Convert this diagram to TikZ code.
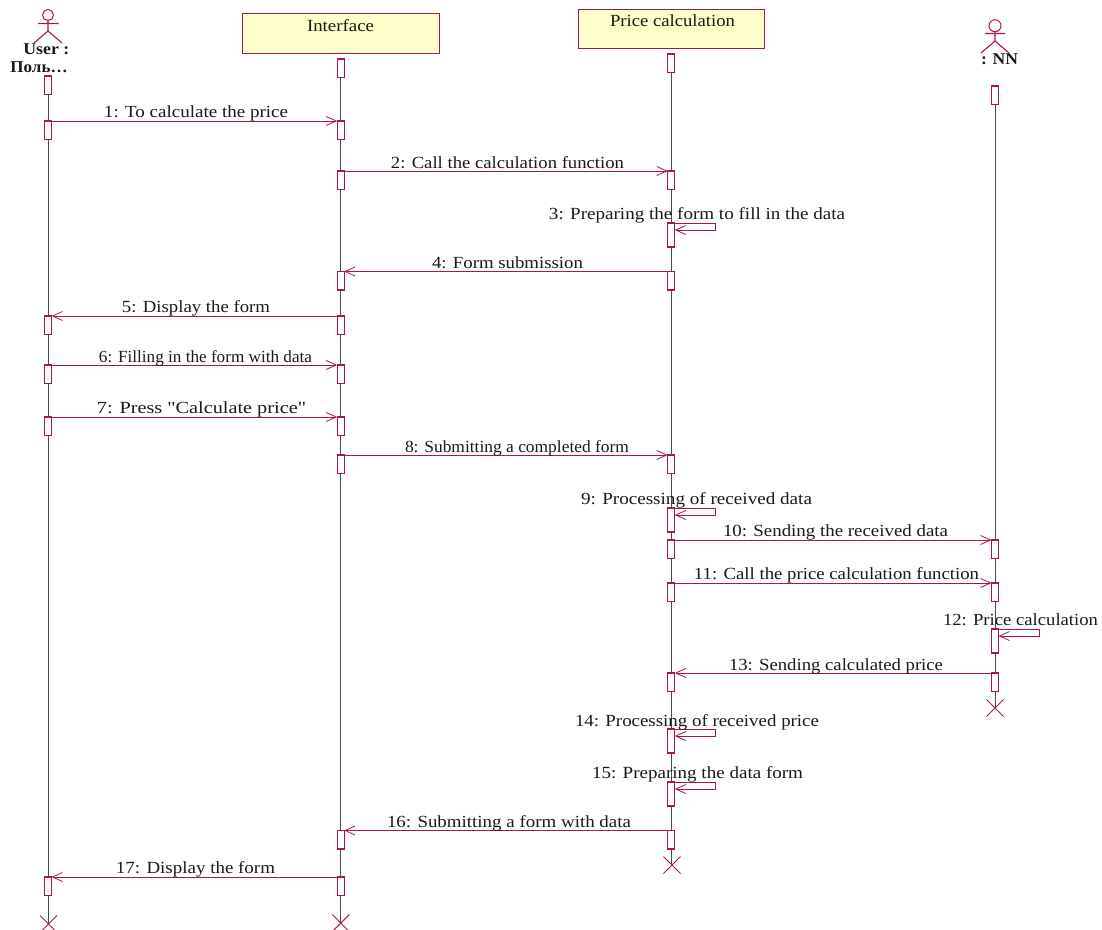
\documentclass[tikz,border=0pt]{standalone}
\usepackage{fontspec}
\usepackage{graphicx}
\newfontfamily\lblfont{Liberation Serif}
\usetikzlibrary{arrows.meta,shapes.misc}
\definecolor{umlred}{RGB}{173,20,75}
\definecolor{umlfill}{RGB}{255,255,203}
\newcommand{\fitw}[2]{\resizebox{#1pt}{\height}{#2}}
\tikzset{
  act/.style={draw=umlred,fill=white,line width=1.05pt,minimum width=7pt,minimum height=18.5pt,inner sep=0pt,outer sep=0pt,anchor=north},
  obj/.style={draw=umlred,fill=umlfill,line width=1pt,inner sep=0pt,outer sep=0pt},
  life/.style={draw=black!70,line width=1pt},
  msg/.style={draw=umlred,line width=0.9pt,-{Straight Barb[length=10pt,width=9pt,line width=0.8pt]}},
  lbl/.style={font=\lblfont\fontsize{17}{19}\selectfont,text=black!90,inner sep=0pt,anchor=base,yshift=-0.7pt},
  actorname/.style={font=\lblfont\fontsize{16.5}{18}\selectfont\bfseries,text=black!90,inner sep=0pt,anchor=base},
  xend/.style={cross out,draw=umlred,line width=1pt,minimum size=17pt,inner sep=0pt,outer sep=0pt},
  limb/.style={draw=umlred,line width=1.1pt},
}
\begin{document}
\begin{tikzpicture}[x=1pt,y=-1pt]
\useasboundingbox (0,0) rectangle (1102,929);
% end marks
\node[xend] (xu) at (48.5,924) {};
\node[xend] (xi) at (340.8,923) {};
\node[xend] (xp) at (672,865) {};
\node[xend] (xn) at (995,708) {};
% head activations
\coordinate (u0c) at (48,76);
\coordinate (i0c) at (340.6,59);
\coordinate (p0c) at (671.3,54);
\coordinate (n0c) at (995,86);
% lifelines
\draw[life] (u0c) -- (u0c |- xu.center);
\draw[life] (i0c) -- (i0c |- xi.center);
\draw[life] (p0c) -- (p0c |- xp.center);
\draw[life] (n0c) -- (n0c |- xn.center);
\node[act] (u0) at (u0c) {};
\node[act] (i0) at (i0c) {};
\node[act] (p0) at (p0c) {};
\node[act] (n0) at (n0c) {};
% object boxes
\node[obj,minimum width=197pt,minimum height=40pt] (ifc) at (340.5,33) {};
\node[lbl] (ifct) at (340.5,30.3) {\fitw{67}{Interface}};
\node[obj,minimum width=186pt,minimum height=39pt] (prc) at (671,28.5) {};
\node[lbl] (prct) at (672.5,26) {\fitw{125}{Price calculation}};
% actors
\node[draw=umlred,line width=1pt,circle,minimum size=11pt,inner sep=0pt,outer sep=0pt] (uh) at (48,15) {};
\coordinate (ul) at (34,43); \coordinate (ur) at (62,43); \coordinate (ub) at (48,31);
\coordinate (ua1) at (38,23.5); \coordinate (ua2) at (58.5,23.5);
\draw[limb] (uh.south) -- (ub) (ua1) -- (ua2) (ul) -- (ub) -- (ur);
\node[actorname] (ut1) at (46.3,54) {\fitw{46}{User :}};
\node[actorname] (ut2) at (39,72.5) {\fitw{57}{Поль…}};
\node[draw=umlred,line width=1pt,circle,minimum size=12pt,inner sep=0pt,outer sep=0pt] (nh) at (995,25.7) {};
\coordinate (nl) at (981,53); \coordinate (nr) at (1009,53); \coordinate (nb) at (995,41);
\coordinate (na1) at (985,33.5); \coordinate (na2) at (1005,33.5);
\draw[limb] (nh.south) -- (nb) (na1) -- (na2) (nl) -- (nb) -- (nr);
\node[actorname] (nt) at (999.5,64) {\fitw{37}{: NN}};
% activations
\node[act] (u1) at (48,121) {};      \node[act] (i1) at (340.6,121) {};
\node[act] (i2) at (340.6,171) {};   \node[act] (p2) at (671.3,171) {};
\node[act,minimum height=24pt] (p3) at (671.3,223) {};
\node[act] (p4) at (671.3,271.5) {};   \node[act] (i4) at (340.6,271.5) {};
\node[act] (i5) at (340.6,316) {};   \node[act] (u5) at (48,316) {};
\node[act] (u6) at (48,365) {};      \node[act] (i6) at (340.6,365) {};
\node[act] (u7) at (48,417) {};      \node[act] (i7) at (340.6,417) {};
\node[act] (i8) at (340.6,455) {};   \node[act] (p8) at (671.3,455) {};
\node[act,minimum height=24pt] (p9) at (671.3,508) {};
\node[act] (p10) at (671.3,540) {};    \node[act] (n10) at (995,540) {};
\node[act] (p11) at (671.3,583) {};    \node[act] (n11) at (995,583) {};
\node[act,minimum height=24pt] (n12) at (995,629) {};
\node[act] (n13) at (995,673) {};    \node[act] (p13) at (671.3,673) {};
\node[act,minimum height=24pt] (p14) at (671.3,729) {};
\node[act,minimum height=24pt] (p15) at (671.3,782) {};
\node[act] (p16) at (671.3,830.5) {};  \node[act] (i16) at (340.6,830.5) {};
\node[act] (i17) at (340.6,877) {};  \node[act] (u17) at (48,877) {};
% messages
\draw[msg] (u1.north east) -- (i1.north west);
\draw[msg] (i2.north east) -- (p2.north west);
\draw[msg] (p3.north east) -- ++(41,0) -- ++(0,7) -- ++(-41,0);
\draw[msg] (p4.north west) -- (i4.north east);
\draw[msg] (i5.north west) -- (u5.north east);
\draw[msg] (u6.north east) -- (i6.north west);
\draw[msg] (u7.north east) -- (i7.north west);
\draw[msg] (i8.north east) -- (p8.north west);
\draw[msg] (p9.north east) -- ++(41,0) -- ++(0,7) -- ++(-41,0);
\draw[msg] (p10.north east) -- (n10.north west);
\draw[msg] (p11.north east) -- (n11.north west);
\draw[msg] (n12.north east) -- ++(40.5,0) -- ++(0,7) -- ++(-40.5,0);
\draw[msg] (n13.north west) -- (p13.north east);
\draw[msg] (p14.north east) -- ++(41,0) -- ++(0,7) -- ++(-41,0);
\draw[msg] (p15.north east) -- ++(41,0) -- ++(0,7) -- ++(-41,0);
\draw[msg] (p16.north west) -- (i16.north east);
\draw[msg] (i17.north west) -- (u17.north east);
% labels
\node[lbl] (m1) at (196,117) {\fitw{184}{1: To calculate the price}};
\node[lbl] (m2) at (507.5,168) {\fitw{233}{2: Call the calculation function}};
\node[lbl] (m3) at (697,219) {\fitw{296}{3: Preparing the form to fill in the data}};
\node[lbl] (m4) at (507.5,268) {\fitw{151}{4: Form submission}};
\node[lbl] (m5) at (196,312) {\fitw{148}{5: Display the form}};
\node[lbl] (m6) at (205.5,362) {\fitw{213}{6: Filling in the form with data}};
\node[lbl] (m7) at (201.5,413) {\fitw{209}{7: Press "Calculate price"}};
\node[lbl] (m8) at (517,452) {\fitw{224}{8: Submitting a completed form}};
\node[lbl] (m9) at (696.5,504) {\fitw{231}{9: Processing of received data}};
\node[lbl] (m10) at (835.5,536) {\fitw{225}{10: Sending the received data}};
\node[lbl] (m11) at (836.5,579) {\fitw{285}{11: Call the price calculation function}};
\node[lbl] (m12) at (1020.5,625) {\fitw{155}{12: Price calculation}};
\node[lbl] (m13) at (836,670) {\fitw{214}{13: Sending calculated price}};
\node[lbl] (m14) at (697,726) {\fitw{244}{14: Processing of received price}};
\node[lbl] (m15) at (697.5,778) {\fitw{211}{15: Preparing the data form}};
\node[lbl] (m16) at (509,827) {\fitw{244}{16: Submitting a form with data}};
\node[lbl] (m17) at (195.5,873) {\fitw{159}{17: Display the form}};
\end{tikzpicture}
\end{document}
